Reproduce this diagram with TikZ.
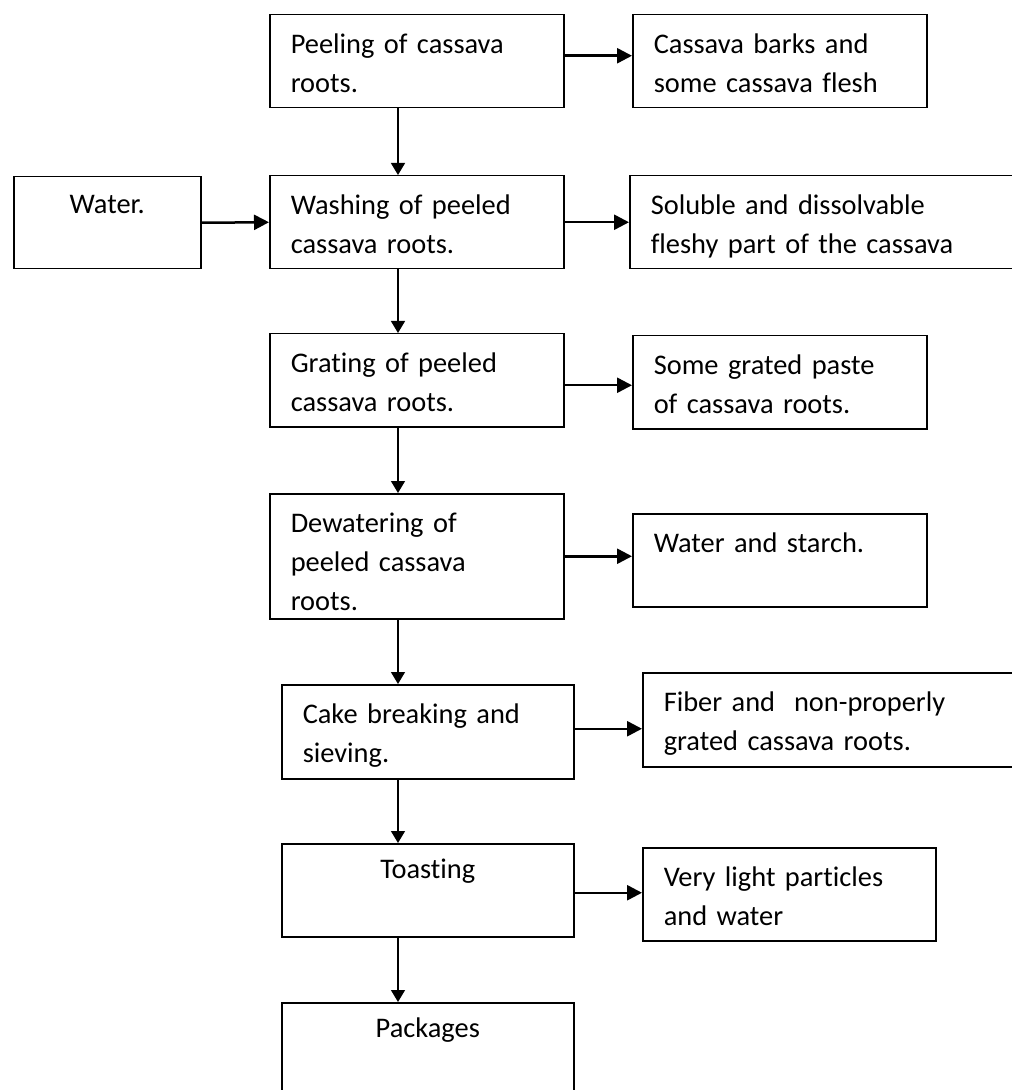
\documentclass[tikz,border=0pt]{standalone}
\usepackage{fontspec}
\setmainfont{Carlito}[Ligatures=NoCommon]
\usepackage{tikz}
\usetikzlibrary{arrows.meta, calc}

\tikzset{
  stage/.style={draw, line width=0.75pt, anchor=north west, inner xsep=10.5pt, inner ysep=0pt,
    align=left, text width=126pt, text height=19.5pt, text depth=27pt},
  flow/.style={-{Triangle[length=6pt, width=7pt]}, line width=0.65pt},
  side/.style={-{Triangle[length=7.5pt, width=7.5pt]}, line width=1.25pt}
}

\begin{document}
\begin{tikzpicture}[x=0.5pt, y=-0.5pt, font=\fontsize{14.2pt}{19.5pt}\selectfont]
    \useasboundingbox (0,0) rectangle (1011,1090);

    % Main line of the process
    \node[stage] (peel) at (269,14) {Peeling of cassava\\roots.};
    \node[stage] (wash) at (269,175) {Washing of peeled\\cassava roots.};
    \node[stage] (grate) at (269,333) {Grating of peeled\\cassava roots.};
    \node[stage, text depth=43pt] (dewater) at (269,493) {Dewatering of\\peeled cassava\\roots.};
    \node[stage, text width=125pt, text depth=27.5pt] (cake) at (281,684) {Cake breaking and\\sieving.};
    \node[stage, text width=125pt, text height=17.5pt, text depth=29pt, align=center] (toast) at (281,843) {Toasting};
    \node[stage, text width=125pt, text height=17.5pt, text depth=42.5pt, align=center] (pack) at (281,1002) {Packages};

    % Input
    \node[stage, text width=72.5pt, text height=18.5pt, text depth=27.5pt, align=center] (water) at (13,176) {Water.};

    % Outputs
    \node[stage] (barks) at (632,14) {Cassava barks and\\some cassava flesh};
    \node[stage, text width=189pt] (soluble) at (629,175) {Soluble and dissolvable\\fleshy part of the cassava};
    \node[stage] (paste) at (632,335) {Some grated paste\\of cassava roots.};
    \node[stage] (starch) at (632,513) {Water and starch.};
    \node[stage, text width=179pt, text depth=27.5pt] (fiber) at (642,672) {Fiber and~ non-properly\\grated cassava roots.};
    \node[stage, text width=125.5pt] (light) at (642,847) {Very light particles\\and water};

    % Downward arrows
    \coordinate (spine) at (398,0);
    \draw[flow] (peel.south -| spine) -- (wash.north -| spine);
    \draw[flow] (wash.south -| spine) -- (grate.north -| spine);
    \draw[flow] (grate.south -| spine) -- (dewater.north -| spine);
    \draw[flow] (dewater.south -| spine) -- (cake.north -| spine);
    \draw[flow] (cake.south -| spine) -- (toast.north -| spine);
    \draw[flow] (toast.south -| spine) -- (pack.north -| spine);

    % Side arrows
    \draw[side] (water.east) -- (wash.west);
    \draw[side] ([yshift=2.75pt]peel.east) -- ([yshift=2.75pt]peel.east -| barks.west);
    \draw[side] (wash.east) -- (wash.east -| soluble.west);
    \draw[side] ([yshift=-2.5pt]grate.east) -- ([yshift=-2.5pt]grate.east -| paste.west);
    \draw[side] (dewater.east) -- (dewater.east -| starch.west);
    \draw[side] ([yshift=1.5pt]cake.east) -- ([yshift=1.5pt]cake.east -| fiber.west);
    \draw[side] ([yshift=-1.25pt]toast.east) -- ([yshift=-1.25pt]toast.east -| light.west);
\end{tikzpicture}
\end{document}
